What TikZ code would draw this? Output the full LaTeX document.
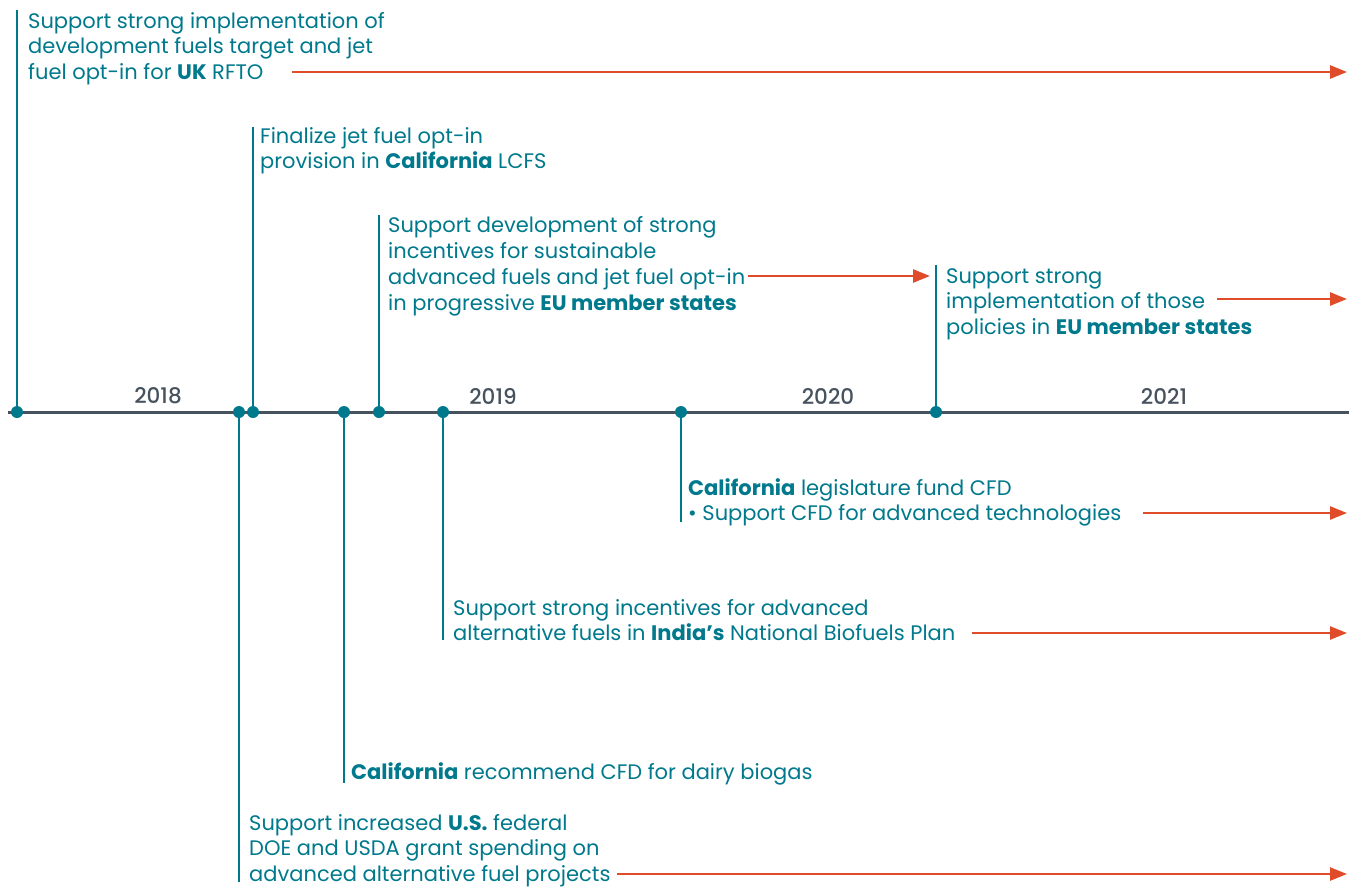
\documentclass[tikz,border=0pt]{standalone}
\usepackage{fontspec}
\setmainfont{Poppins}
\newfontfamily\yearfont{Poppins Medium}
\usetikzlibrary{arrows.meta}
\definecolor{tl}{HTML}{00798C}
\definecolor{axisgray}{HTML}{46525E}
\definecolor{arrred}{HTML}{E04B2A}
\begin{document}
\begin{tikzpicture}[x=1pt,y=-1pt,
  axis/.style={axisgray,line width=3pt},
  dot/.style={circle,fill=tl,inner sep=0pt,minimum size=12pt},
  stem/.style={tl,line width=2.6pt},
  lbl/.style={anchor=base west,align=left,inner sep=0pt,text=tl,font=\fontsize{21}{25.7}\selectfont},
  year/.style={text=axisgray,inner sep=0pt,font=\yearfont\fontsize{21.5}{24}\selectfont},
  arr/.style={arrred,line width=2.6pt,-{Triangle[length=17pt,width=13pt]}}]
\useasboundingbox (0,0) rectangle (1351,887);
% axis
\coordinate (L) at (8,412);
\coordinate (R) at (1349,412);
\draw[axis] (L) -- (R);
% years
\node[year] (y18) at (158,396) {2018};
\node[year] (y19) at (493,396) {2019};
\node[year] (y20) at (828,396) {2020};
\node[year] (y21) at (1164,396) {2021};
% stem ends
\coordinate (e1) at (17,10);
\coordinate (e3) at (253,127);
\coordinate (e5) at (379,215);
\coordinate (e8) at (936,265);
\coordinate (e7) at (681,522);
\coordinate (e6) at (443,640);
\coordinate (e4) at (344,783);
\coordinate (e2) at (239,882);
% dots
\node[dot] (d1) at (17,412) {};
\node[dot] (d2) at (239,412) {};
\node[dot] (d3) at (253,412) {};
\node[dot] (d4) at (344,412) {};
\node[dot] (d5) at (379,412) {};
\node[dot] (d6) at (443,412) {};
\node[dot] (d7) at (681,412) {};
\node[dot] (d8) at (936,412) {};
\foreach \i in {1,...,8} {\draw[stem] (d\i.center) -- (e\i);}
% texts (anchored at the baseline of the last line)
\node[lbl] (t1) at (28,79.5) {Support strong implementation of\\development fuels target and jet\\fuel opt-in for \textbf{UK} RFTO};
\node[lbl] (t3) at (260,168.7) {Finalize jet fuel opt-in\\provision in \textbf{California} LCFS};
\node[lbl] (t5) at (388,310) {Support development of strong\\incentives for sustainable\\advanced fuels and jet fuel opt-in\\in progressive \textbf{EU member states}};
\node[lbl] (t8) at (946,334.4) {Support strong\\implementation of those\\policies in \textbf{EU member states}};
\node[lbl] (t7) at (688,520.7) {\textbf{California} legislature fund CFD\\• Support CFD for advanced technologies};
\node[lbl] (t6) at (453,640.7) {Support strong incentives for advanced\\alternative fuels in \textbf{India’s} National Biofuels Plan};
\node[lbl] (t4) at (351,779) {\textbf{California} recommend CFD for dairy biogas};
\node[lbl] (t2) at (249,881.5) {Support increased \textbf{U.S.} federal\\DOE and USDA grant spending on\\advanced alternative fuel projects};
% arrows
\coordinate (a1s) at (292,72);  \coordinate (a1e) at (1347,72);
\coordinate (a2s) at (748,276); \coordinate (a2e) at (930,276);
\coordinate (a3s) at (1217,299);\coordinate (a3e) at (1347,299);
\coordinate (a4s) at (1143,513);\coordinate (a4e) at (1347,513);
\coordinate (a5s) at (972,633); \coordinate (a5e) at (1347,633);
\coordinate (a6s) at (617,874); \coordinate (a6e) at (1347,874);
\foreach \i in {1,...,6} {\draw[arr] (a\i s) -- (a\i e);}
\end{tikzpicture}
\end{document}
